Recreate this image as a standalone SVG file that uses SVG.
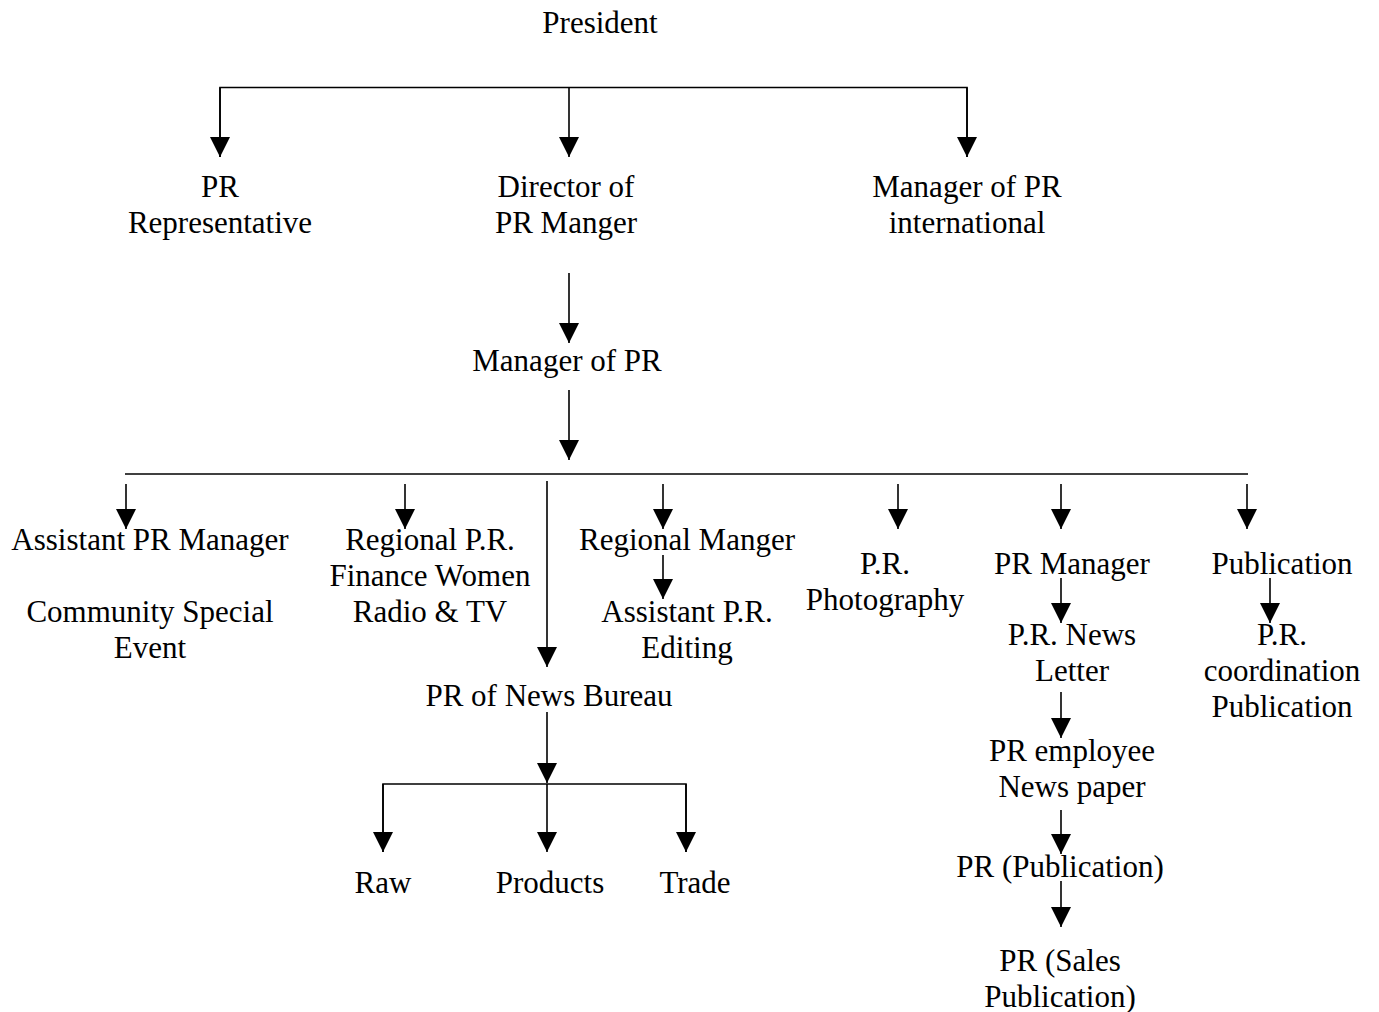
<svg xmlns="http://www.w3.org/2000/svg" width="1379" height="1012" viewBox="0 0 1379 1012">
<defs>
<marker id="ah" viewBox="0 0 20 20" refX="20" refY="10" markerWidth="20" markerHeight="20" markerUnits="userSpaceOnUse" orient="auto">
<path d="M0,0 L20,10 L0,20 z" fill="#000"/>
</marker>
<style>
text{font-family:"Liberation Serif","Times New Roman",serif;font-size:31px;fill:#000;text-anchor:middle}
.c{fill:none;stroke:#000;stroke-width:1.6}
.a{marker-end:url(#ah)}
</style>
</defs>
<rect width="1379" height="1012" fill="#fff"/>
<g id="connectors">
<path class="c" d="M220,157 V87.5 H967 V157"/>
<line class="c a" x1="220" y1="87.5" x2="220" y2="157"/>
<line class="c a" x1="569" y1="87.5" x2="569" y2="157"/>
<line class="c a" x1="967" y1="87.5" x2="967" y2="157"/>
<line class="c a" x1="569" y1="273" x2="569" y2="343"/>
<line class="c a" x1="569" y1="390" x2="569" y2="460"/>
<line class="c" x1="125" y1="474" x2="1248" y2="474"/>
<line class="c a" x1="126" y1="484" x2="126" y2="529"/>
<line class="c a" x1="405" y1="484" x2="405" y2="529"/>
<line class="c a" x1="663" y1="484" x2="663" y2="529"/>
<line class="c a" x1="898" y1="484" x2="898" y2="529"/>
<line class="c a" x1="1061" y1="484" x2="1061" y2="529"/>
<line class="c a" x1="1247" y1="484" x2="1247" y2="529"/>
<line class="c a" x1="547" y1="481" x2="547" y2="667"/>
<line class="c a" x1="663" y1="555" x2="663" y2="599"/>
<line class="c a" x1="1061" y1="578" x2="1061" y2="623"/>
<line class="c a" x1="1061" y1="692" x2="1061" y2="738"/>
<line class="c a" x1="1061" y1="810" x2="1061" y2="854"/>
<line class="c a" x1="1061" y1="881" x2="1061" y2="927"/>
<line class="c a" x1="1270" y1="578" x2="1270" y2="623"/>
<line class="c a" x1="547" y1="712" x2="547" y2="783"/>
<path class="c" d="M383,852 V784 H686 V852"/>
<line class="c a" x1="383" y1="784" x2="383" y2="852"/>
<line class="c a" x1="547" y1="784" x2="547" y2="852"/>
<line class="c a" x1="686" y1="784" x2="686" y2="852"/>
</g>
<g id="president"><text x="600" y="33">President</text></g>
<g id="pr-representative"><text x="220" y="197">PR</text><text x="220" y="233">Representative</text></g>
<g id="director"><text x="566" y="197">Director of</text><text x="566" y="233">PR Manger</text></g>
<g id="manager-international"><text x="967" y="197">Manager of PR</text><text x="967" y="233">international</text></g>
<g id="manager-of-pr"><text x="567" y="371">Manager of PR</text></g>
<g id="assistant-pr-manager"><text x="150" y="550">Assistant PR Manager</text><text x="150" y="622">Community Special</text><text x="150" y="658">Event</text></g>
<g id="regional-pr"><text x="430" y="550">Regional P.R.</text><text x="430" y="586">Finance Women</text><text x="430" y="622">Radio &amp; TV</text></g>
<g id="regional-manger"><text x="687" y="550">Regional Manger</text></g>
<g id="assistant-pr-editing"><text x="687" y="622">Assistant P.R.</text><text x="687" y="658">Editing</text></g>
<g id="pr-photography"><text x="885" y="574">P.R.</text><text x="885" y="610">Photography</text></g>
<g id="pr-manager"><text x="1072" y="574">PR Manager</text></g>
<g id="pr-news-letter"><text x="1072" y="645">P.R. News</text><text x="1072" y="681">Letter</text></g>
<g id="pr-employee"><text x="1072" y="761">PR employee</text><text x="1072" y="797">News paper</text></g>
<g id="pr-publication"><text x="1060" y="877">PR (Publication)</text></g>
<g id="pr-sales"><text x="1060" y="971">PR (Sales</text><text x="1060" y="1007">Publication)</text></g>
<g id="publication"><text x="1282" y="574">Publication</text></g>
<g id="pr-coordination"><text x="1282" y="645">P.R.</text><text x="1282" y="681">coordination</text><text x="1282" y="717">Publication</text></g>
<g id="news-bureau"><text x="549" y="706">PR of News Bureau</text></g>
<g id="raw"><text x="383" y="893">Raw</text></g>
<g id="products"><text x="550" y="893">Products</text></g>
<g id="trade"><text x="695" y="893">Trade</text></g>
</svg>
